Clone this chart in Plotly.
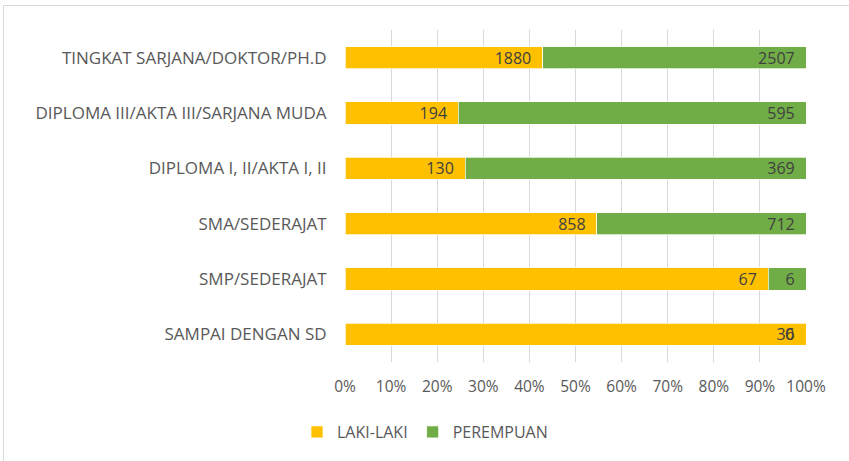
import plotly.graph_objects as go

categories = [
    "SAMPAI DENGAN SD",
    "SMP/SEDERAJAT",
    "SMA/SEDERAJAT",
    "DIPLOMA I, II/AKTA I, II",
    "DIPLOMA III/AKTA III/SARJANA MUDA",
    "TINGKAT SARJANA/DOKTOR/PH.D",
]
laki_laki = [36, 67, 858, 130, 194, 1880]
perempuan = [0, 6, 712, 369, 595, 2507]
tick_vals = [0, 10, 20, 30, 40, 50, 60, 70, 80, 90, 100]
tick_text = ["0%", "10%", "20%", "30%", "40%", "50%", "60%", "70%", "80%", "90%", "100%"]

W, H = 849, 461
L, R, T, B = 345, 43, 30, 99
FONT = "Open Sans"
TXT = "#595959"
LBL = "#404040"
PAD = "\u00a0\u00a0"

fig = go.Figure()
fig.add_trace(go.Bar(
    y=categories, x=laki_laki, name="LAKI-LAKI", orientation="h",
    marker=dict(color="#FFC000", line=dict(color="white", width=0.7)),
    text=[str(v) + PAD for v in laki_laki], textposition="inside",
    insidetextanchor="end", textangle=0,
    textfont=dict(family=FONT, size=16, color=LBL),
    constraintext="none", hoverinfo="skip",
))
fig.add_trace(go.Bar(
    y=categories, x=perempuan, name="PEREMPUAN", orientation="h",
    marker=dict(color="#70AD47", line=dict(color="white", width=0.7)),
    text=[str(v) + PAD for v in perempuan], textposition="inside",
    insidetextanchor="end", textangle=0,
    textfont=dict(family=FONT, size=16, color=LBL),
    constraintext="none", hoverinfo="skip",
))

# zero-width segment labels (Excel still prints them at the bar end)
for cat, v in zip(categories, perempuan):
    if v == 0:
        fig.add_annotation(
            x=100, y=cat, xref="x", yref="y", text=str(v), showarrow=False,
            xanchor="right", xshift=-10,
            font=dict(family=FONT, size=16, color=LBL),
        )

ph = H - T - B
pw = W - L - R
fig.update_layout(
    width=W, height=H,
    barmode="stack", barnorm="percent", bargap=0.6,
    margin=dict(l=L, r=R, t=T, b=B, autoexpand=False),
    paper_bgcolor="white", plot_bgcolor="white",
    font=dict(family=FONT, size=15, color=TXT),
    xaxis=dict(
        range=[0, 100], tickvals=tick_vals, ticktext=tick_text,
        showgrid=True, gridcolor="#d9d9d9", gridwidth=1,
        zeroline=False, showline=False,
        ticks="outside", ticklen=10, tickcolor="rgba(0,0,0,0)",
        tickfont=dict(family=FONT, size=15.5, color=TXT),
        automargin=False,
    ),
    yaxis=dict(
        showgrid=False, zeroline=False, showline=False,
        ticks="outside", ticklen=14, tickcolor="rgba(0,0,0,0)",
        tickfont=dict(family=FONT, size=17, color=TXT),
        automargin=False,
    ),
    legend=dict(
        orientation="h", x=(425 - L) / pw, xanchor="center",
        y=-(432 - (H - B)) / ph, yanchor="middle",
        font=dict(family=FONT, size=16, color=TXT),
        traceorder="normal", itemwidth=30,
    ),
    showlegend=True,
)
fig.add_shape(
    type="rect", xref="paper", yref="paper",
    x0=(3.5 - L) / pw, x1=(852 - L) / pw,
    y0=((H - B) - 470) / ph, y1=((H - B) - 5.5) / ph,
    line=dict(color="#d9d9d9", width=1), fillcolor="rgba(0,0,0,0)",
    layer="below",
)
fig.write_html(
    "out.html",
    config={"displayModeBar": False},
    post_script="document.body.style.margin='0';document.body.style.overflow='hidden';",
)
